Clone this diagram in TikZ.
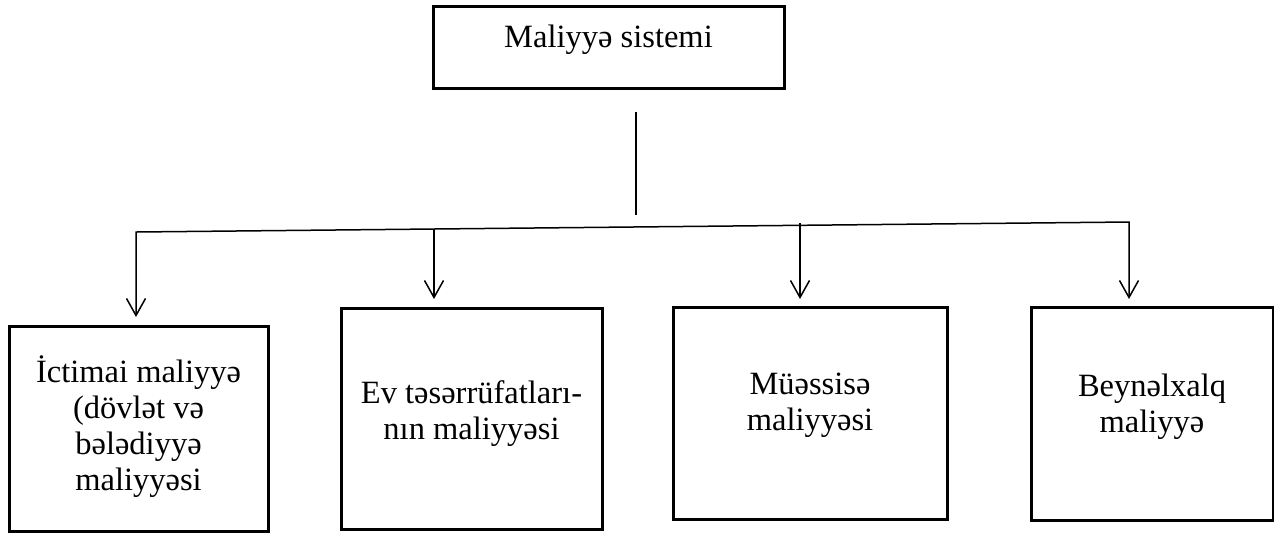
\documentclass[tikz,border=0pt]{standalone}
\usepackage{fontspec}
\setmainfont{Liberation Serif}
\usetikzlibrary{arrows.meta}
\begin{document}
\begin{tikzpicture}[x=0.5pt,y=-0.5pt,
  box/.style={draw,line width=1.5pt,inner sep=0pt,outer sep=0pt},
  lbl/.style={align=center,font=\fontsize{16.25}{18}\selectfont,inner sep=0pt},
  conn/.style={line width=0.75pt},
  tip/.tip={Straight Barb[length=8.5pt,width=9.5pt]},
  arr/.style={conn,-tip}]
\useasboundingbox (0,0) rectangle (1274,532);
% boxes
\node[box,minimum width=175.5pt,minimum height=41pt] (b0) at (608.5,47) {};
\node[box,minimum width=129.5pt,minimum height=102.5pt] (b1) at (138.5,428.5) {};
\node[box,minimum width=130.5pt,minimum height=110.5pt] (b2) at (471.5,418.5) {};
\node[box,minimum width=137pt,minimum height=106pt] (b3) at (810,413) {};
\node[box,minimum width=121pt,minimum height=106.5pt] (b4) at (1152,413.5) {};
% labels
\node[lbl] (t0) at (608.5,39.5) {Maliyyə sistemi};
\node[lbl] (t1) at (138.5,427) {İctimai maliyyə\\(dövlət və\\bələdiyyə\\maliyyəsi};
\node[lbl] (t2) at (471.5,414) {Ev təsərrüfatları-\\nın maliyyəsi};
\node[lbl] (t3) at (810,405) {Müəssisə\\maliyyəsi};
\node[lbl] (t4) at (1152,406.5) {Beynəlxalq\\maliyyə};
% connector points
\coordinate (v1) at (636,112);
\coordinate (v2) at (636,215);
\coordinate (hl) at (136,232);
\coordinate (hr) at (1129,222);
\coordinate (a1) at (136,317);
\coordinate (a4) at (1129,299);
\coordinate (s2) at (434,230);
\coordinate (a2) at (434,299);
\coordinate (s3) at (800,223);
\coordinate (a3) at (800,299);
% connectors
\draw[conn] (v1) -- (v2);
\draw[conn,tip-tip] (a1) -- (hl) -- (hr) -- (a4);
\draw[arr] (s2) -- (a2);
\draw[arr] (s3) -- (a3);
\end{tikzpicture}
\end{document}
